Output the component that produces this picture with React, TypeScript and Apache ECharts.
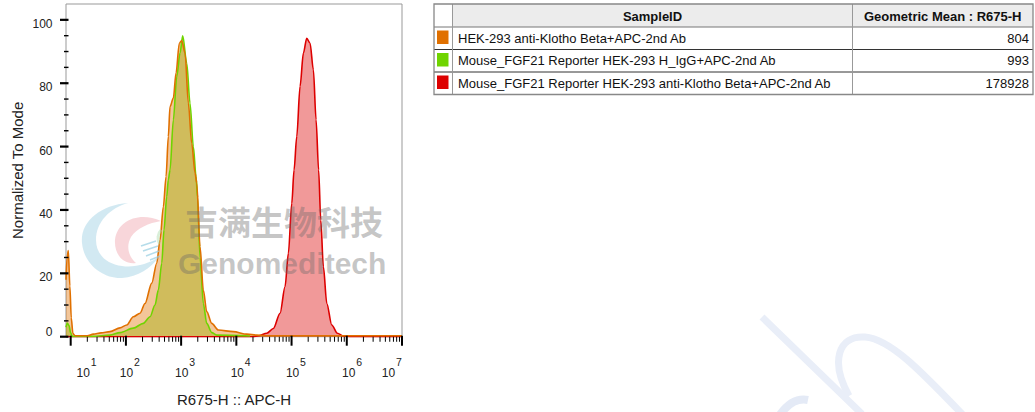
import React, { useEffect, useRef } from "react";
import * as echarts from "echarts";

const FONT = "'Liberation Sans', Arial, Helvetica, sans-serif";

// ---------- data ----------
const xDecades = [1, 2, 3, 4, 5, 6, 7];
const xTickBase = "10";
const xTickSup = ["1", "2", "3", "4", "5", "6", "7"];
const xMinorFactors = [2, 3, 4, 5, 6, 7, 8, 9];
const yTicksMajor = [0, 20, 40, 60, 80, 100];
const yTicksMinor = [5, 10, 15, 25, 30, 35, 45, 50, 55, 65, 70, 75, 85, 90, 95];

const orangeData = [
  [0.915, 18], [0.935, 25], [0.957, 27.2], [0.985, 16], [1.01, 6], [1.04, 1.0], [1.08, 0.3],
  [1.3, 0.3], [1.41, 0.8], [1.55, 1.2], [1.712, 1.6], [1.893, 2.8], [2.015, 3.7], [2.134, 6.3],
  [2.256, 7.4], [2.346, 10.5], [2.468, 16.9], [2.558, 23.2], [2.618, 30.5], [2.678, 41],
  [2.727, 50.5], [2.768, 63.2], [2.799, 72.6], [2.859, 75.3], [2.908, 83.2], [2.967, 92.6],
  [3.011, 93.5], [3.071, 89.5], [3.131, 73.7], [3.192, 61], [3.252, 51.7], [3.283, 48.5],
  [3.343, 28.4], [3.402, 14.7], [3.464, 7.9], [3.555, 4.2], [3.674, 2.1], [3.946, 1.6],
  [4.189, 0.8], [4.37, 0.5], [4.6, 0.3], [7.0, 0.3],
];
const greenData = [
  [0.915, 3], [0.94, 4.3], [0.97, 3.5], [1.0, 1.2], [1.03, 0.1], [1.4, 0.1], [1.712, 0.5],
  [1.893, 1.3], [2.134, 2.7], [2.315, 4.2], [2.437, 6.3], [2.527, 10], [2.587, 14.7],
  [2.649, 23.2], [2.69, 33.7], [2.739, 44.2], [2.768, 49.5], [2.799, 52.6], [2.859, 68.4],
  [2.92, 82], [2.98, 89.5], [3.029, 95], [3.102, 86.3], [3.161, 73.7], [3.221, 60],
  [3.27, 50.6], [3.297, 44], [3.343, 25], [3.402, 10.5], [3.464, 4.2], [3.555, 1.3],
  [3.645, 0.5], [4.25, 0.2],
];
const redData = [
  [0.915, 0], [4.3, 0], [4.399, 0.3], [4.551, 1.1], [4.671, 2.6], [4.792, 7.4], [4.882, 15.8],
  [4.942, 26.3], [5.004, 42.1], [5.045, 52.6], [5.094, 63.2], [5.154, 79], [5.214, 89.5],
  [5.275, 94.2], [5.335, 92.6], [5.395, 84.2], [5.444, 68.4], [5.49, 52.6], [5.529, 36.8],
  [5.576, 22.1], [5.638, 10.5], [5.728, 3.7], [5.83, 1.1], [5.938, 0.2], [6.1, 0], [7.0, 0],
];

const sampleIds = [
  "HEK-293 anti-Klotho Beta+APC-2nd Ab",
  "Mouse_FGF21 Reporter HEK-293 H_IgG+APC-2nd Ab",
  "Mouse_FGF21 Reporter HEK-293 anti-Klotho Beta+APC-2nd Ab",
];
const geoMeans = ["804", "993", "178928"];
const headerLabels = ["SampleID", "Geometric Mean : R675-H"];
const sampleColors = ["#E07000", "#6FD400", "#DD0000"];

// ---------- layout / style ----------
const X_MIN = 0.915;
const X_MAX = 7.0;
const Y_MAX = 105;
const xLabelShift = [12, 0, 0, 0.5, 0.5, 1.5, -14];

echarts.graphic.registerShape(
  "wmBlue",
  echarts.graphic.extendPath(
    "M128 203 C100 205 80 222 82 243 C84 265 104 279 122 278 C138 277 151 268 159 257 C148 264 134 268 122 266 C106 264 96 254 96 240 C96 222 110 208 128 203 Z",
    {}
  )
);
echarts.graphic.registerShape(
  "wmPink",
  echarts.graphic.extendPath(
    "M161 221 C140 211 117 220 115 240 C114 255 124 265 136 263 C128 256 126 246 131 237 C137 228 149 223 161 221 Z",
    {}
  )
);
echarts.graphic.registerShape(
  "wmLoop",
  echarts.graphic.extendPath("M849 396 C830 362 838 335 865 337 C890 339 920 370 964 416", {})
);
echarts.graphic.registerShape(
  "wmBlob",
  echarts.graphic.extendPath("M779 416 C788 403 798 398 808 400", {})
);

const txt = (text: string, font: string, align: string, vAlign = "middle") => ({
  text,
  font,
  fill: "#222",
  align,
  verticalAlign: vAlign,
});

function buildTable(): any[] {
  const left = 434, top = 4, right = 1033, colSw = 452.5, colMean = 852.5;
  const headerBottom = 27, rowH = 22.5;
  const bottom = headerBottom + rowH * sampleIds.length;
  const els: any[] = [];
  els.push({ type: "rect", shape: { x: colSw, y: top, width: right - colSw, height: headerBottom - top }, style: { fill: "#ececec" } });
  els.push({
    type: "text", x: (colSw + colMean) / 2, y: (top + headerBottom) / 2 + 0.5,
    style: { ...txt(headerLabels[0], `bold 13px ${FONT}`, "center"), fill: "#111" },
  });
  els.push({
    type: "text", x: (colMean + right) / 2, y: (top + headerBottom) / 2 + 0.5,
    style: { ...txt(headerLabels[1], `bold 13px ${FONT}`, "center"), fill: "#111" },
  });
  els.push({ type: "line", shape: { x1: left, y1: headerBottom, x2: right, y2: headerBottom }, style: { stroke: "#777", lineWidth: 1 } });
  sampleIds.forEach((id, i) => {
    const rt = headerBottom + rowH * i;
    const cy = rt + rowH / 2;
    els.push({ type: "rect", shape: { x: 437, y: rt + 3.5, width: 11.5, height: 13.5 }, style: { fill: sampleColors[i] } });
    els.push({ type: "text", x: 458, y: cy, style: { ...txt(id, `13px ${FONT}`, "left"), fill: "#111" } });
    els.push({ type: "text", x: 1029, y: cy, style: { ...txt(geoMeans[i], `13px ${FONT}`, "right"), fill: "#111" } });
    if (i < sampleIds.length - 1) {
      els.push({ type: "line", shape: { x1: left, y1: rt + rowH, x2: right, y2: rt + rowH }, style: { stroke: "#333", lineWidth: 1 } });
    }
  });
  els.push({ type: "line", shape: { x1: colSw, y1: top, x2: colSw, y2: bottom }, style: { stroke: "#999", lineWidth: 1 } });
  els.push({ type: "line", shape: { x1: colMean, y1: top, x2: colMean, y2: bottom }, style: { stroke: "#999", lineWidth: 1 } });
  els.push({ type: "rect", shape: { x: left, y: top, width: right - left, height: bottom - top }, style: { fill: "none", stroke: "#888", lineWidth: 1.3 } });
  return els;
}

function buildWatermark(): any[] {
  const gray = "rgba(105,105,105,0.38)";
  return [
    { type: "wmBlue", x: 0, y: 0, z: 100, style: { fill: "rgba(165,212,230,0.5)" } },
    { type: "wmPink", x: 0, y: 0, z: 100, style: { fill: "rgba(240,165,172,0.45)" } },
    { type: "arc", z: 100, shape: { cx: 170, cy: 238, r: 12, startAngle: 2.6, endAngle: 3.9 }, style: { stroke: "rgba(170,220,170,0.45)", lineWidth: 3, fill: "none" } },
    { type: "line", z: 100, shape: { x1: 141, y1: 246, x2: 156, y2: 241 }, style: { stroke: "rgba(150,205,225,0.7)", lineWidth: 1.5 } },
    { type: "line", z: 100, shape: { x1: 143, y1: 251, x2: 158, y2: 246 }, style: { stroke: "rgba(150,205,225,0.7)", lineWidth: 1.5 } },
    { type: "line", z: 100, shape: { x1: 146, y1: 256, x2: 159, y2: 251 }, style: { stroke: "rgba(150,205,225,0.7)", lineWidth: 1.5 } },
    { type: "line", z: 100, shape: { x1: 150, y1: 260, x2: 160, y2: 256 }, style: { stroke: "rgba(150,205,225,0.7)", lineWidth: 1.5 } },
    {
      type: "text", z: 100, x: 185, y: 221,
      style: { ...txt("吉满生物科技", `bold 33px 'Noto Sans CJK SC', sans-serif`, "left"), fill: gray },
    },
    {
      type: "text", z: 100, x: 178, y: 263,
      style: { ...txt("Genomeditech", `bold 30px ${FONT}`, "left"), fill: gray },
    },
    { type: "line", z: 1, shape: { x1: 762, y1: 317, x2: 862, y2: 414 }, style: { stroke: "#e9eef8", lineWidth: 7 } },
    { type: "wmLoop", x: 0, y: 0, z: 1, style: { stroke: "#e9eef8", lineWidth: 7, fill: "none" } },
    { type: "wmBlob", x: 0, y: 0, z: 1, style: { stroke: "#e4eaf6", lineWidth: 8, fill: "none" } },
  ];
}

const hiddenParts = { axisLine: { show: false }, axisLabel: { show: false }, splitLine: { show: false }, axisTick: { show: false } };

export default function App() {
  const ref = useRef<HTMLDivElement>(null);
  useEffect(() => {
    if (!ref.current) return;
    const chart = echarts.init(ref.current, undefined, { renderer: "svg" });

    const xMinorTicks: number[] = [];
    xDecades.slice(0, -1).forEach((d) => xMinorFactors.forEach((k) => xMinorTicks.push(d + Math.log10(k))));

    const mkLine = (name: string, data: number[][], color: string) => ({
      type: "line",
      name,
      data,
      showSymbol: false,
      symbol: "none",
      smooth: 0.3,
      smoothMonotone: "x",
      lineStyle: { color, width: 1.6 },
      areaStyle: { color, opacity: 0.4 },
    });

    chart.setOption({
      animation: false,
      grid: {
        left: 66, right: 633, top: 4, bottom: 75.3, show: true, borderColor: "#999", borderWidth: 1,
        containLabel: false, outerBoundsMode: "none",
      },
      xAxis: {
        type: "value", min: X_MIN, max: X_MAX, ...hiddenParts,
        name: "R675-H :: APC-H", nameLocation: "middle", nameGap: 54.8,
        nameTextStyle: { fontFamily: FONT, fontSize: 15, color: "#222" },
      },
      yAxis: {
        type: "value", min: 0, max: Y_MAX, ...hiddenParts,
        name: "Normalized To Mode", nameLocation: "middle", nameGap: 41, nameRotate: 90,
        nameTextStyle: { fontFamily: FONT, fontSize: 15, color: "#222" },
      },
      series: [
        mkLine(sampleIds[2], redData, sampleColors[2]),
        mkLine(sampleIds[1], greenData, sampleColors[1]),
        mkLine(sampleIds[0], orangeData, sampleColors[0]),
      ],
    });

    // ticks and tick labels placed through the chart's own scales
    const toPx = (x: number, y: number) => chart.convertToPixel({ gridIndex: 0 }, [x, y]) as number[];
    const tickEls: any[] = [];
    const labelEls: any[] = [];
    xDecades.forEach((d, i) => {
      const p = toPx(d, 0);
      tickEls.push({ type: "rect", z: 10, shape: { x: p[0] - 1, y: p[1] - 1, width: 2, height: 10 }, style: { fill: "#000" } });
      const cx = p[0] + 0.5 + xLabelShift[i];
      labelEls.push({ type: "text", x: cx, y: p[1] + 36, style: txt(xTickBase, `12px ${FONT}`, "center") });
      labelEls.push({ type: "text", x: cx + 7.5, y: p[1] + 25.5, style: txt(xTickSup[i], `10.5px ${FONT}`, "left") });
    });
    xMinorTicks.forEach((d) => {
      const p = toPx(d, 0);
      tickEls.push({ type: "rect", z: 10, shape: { x: p[0] - 0.5, y: p[1], width: 1, height: 5 }, style: { fill: "#000" } });
    });
    yTicksMajor.forEach((v) => {
      const p = toPx(X_MIN, v);
      tickEls.push({ type: "rect", z: 10, shape: { x: p[0] - 6, y: p[1] - 1.1, width: 8.5, height: 2.2 }, style: { fill: "#000" } });
      labelEls.push({ type: "text", x: p[0] - 13.5, y: p[1] + (v === 0 ? -5 : 4), style: txt(String(v), `12px ${FONT}`, "right") });
    });
    yTicksMinor.forEach((v) => {
      const p = toPx(X_MIN, v);
      tickEls.push({ type: "rect", z: 10, shape: { x: p[0] - 2, y: p[1] - 0.7, width: 4.5, height: 1.4 }, style: { fill: "#000" } });
    });

    chart.setOption({ graphic: { elements: [...tickEls, ...labelEls, ...buildTable(), ...buildWatermark()] } });
    return () => chart.dispose();
  }, []);
  return <div ref={ref} style={{ position: "absolute", left: 0, top: 0, width: 1035, height: 412 }} />;
}
